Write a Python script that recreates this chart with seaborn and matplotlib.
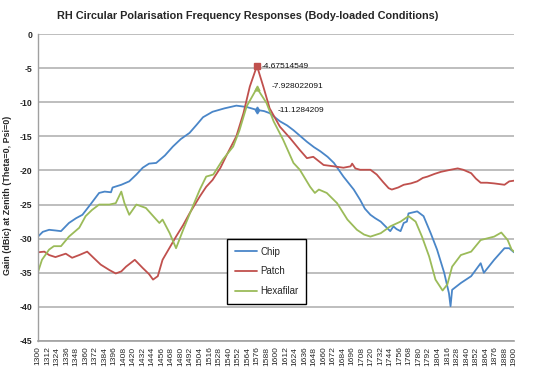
import numpy as np
import pandas as pd
import matplotlib
matplotlib.use("Agg")
import matplotlib.pyplot as plt
import seaborn as sns

chip_freq = [1300, 1306, 1314, 1322, 1329, 1334, 1339, 1348, 1356, 1366, 1377, 1384, 1392, 1394,
             1405, 1415, 1424, 1432, 1440, 1449, 1460, 1470, 1480, 1491, 1500, 1508, 1520, 1535,
             1550, 1563, 1576, 1585, 1592, 1605, 1614, 1622, 1630, 1639, 1648, 1656, 1665, 1673,
             1685, 1698, 1706, 1712, 1719, 1725, 1732, 1738, 1744, 1748, 1752, 1757, 1761, 1765,
             1767, 1778, 1786, 1795, 1803, 1812, 1818, 1820, 1822, 1833, 1846, 1858, 1862, 1875,
             1888, 1894, 1900]
chip_gain = [-29.7, -29.0, -28.7, -28.8, -28.9, -28.3, -27.7, -27.0, -26.5, -25.0, -23.3, -23.1, -23.2, -22.5,
             -22.1, -21.6, -20.6, -19.6, -19.0, -18.9, -17.8, -16.5, -15.4, -14.5, -13.3, -12.2, -11.4, -10.9,
             -10.5, -10.7, -11.1284209, -11.3, -11.6, -12.8, -13.4, -14.1, -14.9, -15.8, -16.6, -17.2, -18.0, -18.9,
             -20.9, -22.8, -24.3, -25.6, -26.5, -27.0, -27.5, -28.2, -28.9, -28.2, -28.6, -28.9, -27.7, -27.5,
             -26.3, -26.0, -26.7, -29.2, -31.6, -35.0, -38.0, -39.9, -37.5, -36.5, -35.5, -33.6, -35.0, -33.1,
             -31.4, -31.4, -32.0]

patch_freq = [1300, 1308, 1314, 1322, 1335, 1343, 1352, 1362, 1370, 1379, 1390, 1398, 1405, 1411,
              1422, 1432, 1440, 1445, 1451, 1457, 1466, 1474, 1483, 1491, 1504, 1512, 1520, 1530,
              1538, 1550, 1559, 1567, 1576, 1584, 1592, 1605, 1618, 1630, 1639, 1647, 1660, 1673,
              1685, 1694, 1696, 1700, 1706, 1719, 1727, 1735, 1742, 1746, 1754, 1761, 1770, 1778,
              1785, 1791, 1800, 1808, 1820, 1829, 1836, 1846, 1852, 1858, 1866, 1875, 1888, 1894, 1900]
patch_gain = [-32.0, -31.9, -32.4, -32.7, -32.2, -32.8, -32.4, -31.9, -32.8, -33.8, -34.6, -35.1, -34.8, -34.1,
              -33.1, -34.3, -35.2, -36.0, -35.5, -33.1, -31.3, -29.7, -28.0, -26.3, -23.8, -22.4, -21.4, -19.6,
              -17.7, -15.0, -11.6, -7.7, -4.67514549, -7.7, -10.9, -13.6, -15.3, -17.0, -18.2, -18.0, -19.2, -19.4,
              -19.6, -19.4, -19.0, -19.7, -19.9, -19.9, -20.6, -21.7, -22.6, -22.8, -22.5, -22.1, -21.9, -21.6,
              -21.1, -20.9, -20.5, -20.2, -19.9, -19.7, -19.9, -20.4, -21.2, -21.8, -21.8, -21.9, -22.1, -21.6, -21.5]

hexa_freq = [1300, 1305, 1314, 1320, 1329, 1339, 1352, 1360, 1368, 1377, 1390, 1398, 1405, 1409,
             1415, 1424, 1436, 1446, 1453, 1457, 1466, 1474, 1483, 1495, 1504, 1512, 1521, 1533,
             1546, 1554, 1563, 1576, 1588, 1597, 1609, 1622, 1630, 1643, 1649, 1654, 1664, 1677,
             1690, 1702, 1711, 1719, 1732, 1744, 1757, 1767, 1776, 1784, 1793, 1801, 1810, 1816,
             1822, 1833, 1846, 1858, 1875, 1884, 1892, 1897, 1900]
hexa_gain = [-34.9, -33.1, -31.6, -31.1, -31.1, -29.7, -28.4, -26.7, -25.8, -25.0, -25.0, -24.8, -23.1, -24.8,
             -26.5, -25.0, -25.5, -26.8, -27.7, -27.2, -29.2, -31.4, -28.7, -25.3, -22.8, -20.9, -20.6, -18.4,
             -16.5, -14.1, -10.6, -7.928022091, -10.1, -12.8, -15.5, -18.9, -19.9, -22.4, -23.3, -22.8, -23.3, -24.8,
             -27.2, -28.7, -29.4, -29.7, -29.2, -28.2, -27.5, -26.7, -27.5, -29.7, -32.6, -36.0, -37.6, -36.7,
             -34.1, -32.4, -31.9, -30.2, -29.7, -29.1, -30.2, -31.6, -31.9]

series_names = ["Chip", "Patch", "Hexafilar"]
series_colors = ["#4a86c8", "#c0504d", "#9bbb59"]
peak_freq = 1576
peak_labels = ["-11.1284209", "-4.67514549", "-7.928022091"]
x_ticks = list(range(1300, 1901, 12))
y_ticks = list(range(0, -46, -5))

df = pd.concat([
    pd.DataFrame({"Frequency": chip_freq, "Gain": chip_gain, "Series": "Chip"}),
    pd.DataFrame({"Frequency": patch_freq, "Gain": patch_gain, "Series": "Patch"}),
    pd.DataFrame({"Frequency": hexa_freq, "Gain": hexa_gain, "Series": "Hexafilar"}),
], ignore_index=True)

sns.set_style("white")
plt.rcParams["font.family"] = ["Liberation Sans", "DejaVu Sans"]

fig = plt.figure(figsize=(5.4, 3.68), dpi=100)
ax = fig.add_axes([38 / 540, 1 - 341 / 368, 476 / 540, 307 / 368])

palette = dict(zip(series_names, series_colors))
sns.lineplot(data=df, x="Frequency", y="Gain", hue="Series", hue_order=series_names,
             palette=palette, linewidth=1.3, ax=ax, estimator=None, sort=True)

# peak markers and labels
markers = ["d", "s", "^"]
label_pos = [(277.7, 110), (261.7, 66), (271.7, 86)]
peak_vals = [-11.1284209, -4.67514549, -7.928022091]
for name, col, mk, val, lab, (px, py) in zip(series_names, series_colors, markers, peak_vals, peak_labels, label_pos):
    ax.plot([peak_freq], [val], marker=mk, color=col, markersize=4.5 if mk == "s" else 3.5, zorder=5)
    fig.text(px / 540, 1 - py / 368, lab, fontsize=6, va="center", ha="left", color="#111111")

ax.set_xlim(1300, 1900)
ax.set_ylim(-45, 0)
ax.set_xticks(x_ticks)
ax.set_xticklabels([str(t) for t in x_ticks], rotation=90, fontsize=6.1)
ax.set_yticks(y_ticks)
ax.set_yticklabels([str(t) for t in y_ticks], fontsize=6.2, fontweight="bold")
ax.yaxis.grid(True, color="#b3b3b3", linewidth=1.2)
ax.xaxis.grid(False)
for s in ["top", "right"]:
    ax.spines[s].set_visible(False)
ax.spines["left"].set_color("#a0a0a0")
ax.spines["bottom"].set_color("#a0a0a0")
ax.spines["left"].set_linewidth(1.0)
ax.spines["bottom"].set_linewidth(1.2)
ax.tick_params(axis="both", which="both", length=2.5, width=0.8, color="#a0a0a0", pad=1.5)
ax.set_xlabel("")
ax.set_ylabel("Gain (dBic) at Zenith (Theta=0, Psi=0)", fontsize=6.4, fontweight="bold")
ax.yaxis.set_label_coords((12 - 38) / 476, (341 - 195) / 307)

fig.text(248 / 540, 1 - 16 / 368, "RH Circular Polarisation Frequency Responses (Body-loaded Conditions)",
         fontsize=7.8, fontweight="bold", ha="center", va="center")

leg = ax.legend(loc="lower left", bbox_to_anchor=((227 - 38) / 476, (341 - 304) / 307),
                frameon=True, fancybox=False, fontsize=7, handlelength=2.3, handletextpad=0.3,
                labelspacing=1.0, borderpad=0.8, borderaxespad=0)
leg.get_frame().set_edgecolor("black")
leg.get_frame().set_linewidth(1.0)
leg.get_frame().set_alpha(1)

fig.savefig("out.png", dpi=100)
